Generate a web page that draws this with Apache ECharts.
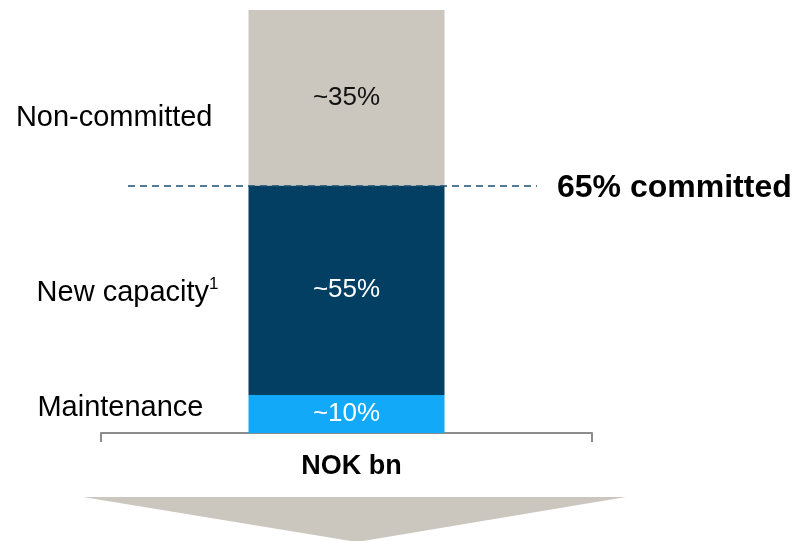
<!DOCTYPE html>
<html>
<head>
<meta charset="utf-8">
<script src="https://cdn.jsdelivr.net/npm/echarts@6/dist/echarts.min.js"></script>
<style>
    html, body { margin: 0; padding: 0; background: #fff; }
    #chart { width: 794px; height: 541px; }
</style>
</head>
<body>
<div id="chart"></div>
<script>
// data (bar heights in % of the total)
const categories = ['NOK bn']
const segmentNames = ['Maintenance', 'New capacity{sup|1}', 'Non-committed']
const segmentValues = [9, 49.5, 41.5]
const segmentLabels = ['~10%', '~55%', '~35%']
const committedValue = 58.5
const committedLabel = '65% committed'

const colors = ['#13A9F9', '#023F63', '#CBC7BF']
const insideColors = ['#fff', '#fff', '#111']
const font = '"Liberation Sans", Arial, sans-serif'

let chart = echarts.init(document.getElementById('chart'), null, {renderer: 'canvas'})

// left side name labels: offsets per segment
const nameLabel = [
    {distance: 45, offset: [0, -6]},
    {distance: 30, offset: [0, 3]},
    {distance: 36, offset: [0, 20]}
]

let series = []
segmentValues.forEach((v, i) => {
    series.push({
        name: segmentNames[i],
        type: 'bar',
        stack: 'total',
        barWidth: 196,
        data: [v],
        itemStyle: {color: colors[i]},
        label: {
            show: true,
            position: 'inside',
            formatter: segmentLabels[i],
            color: insideColors[i],
            fontFamily: font,
            fontSize: 26
        },
        markLine: i === 1 ? {
            silent: true,
            symbol: 'none',
            lineStyle: {color: '#1B4F72', width: 1.6, type: [7, 5]},
            label: {
                show: true,
                position: 'end',
                distance: 20,
                offset: [0, 3],
                formatter: committedLabel,
                color: '#000',
                fontFamily: font,
                fontWeight: 'bold',
                fontSize: 32
            },
            data: [[{x: 128, yAxis: committedValue}, {x: 537, yAxis: committedValue}]]
        } : undefined
    })
})

// transparent copy of the stack that only carries the names on the left
segmentValues.forEach((v, i) => {
    series.push({
        type: 'bar',
        stack: 'names',
        barWidth: 196,
        barGap: '-100%',
        data: [v],
        itemStyle: {color: 'transparent'},
        silent: true,
        label: {
            show: true,
            position: 'left',
            distance: nameLabel[i].distance,
            offset: nameLabel[i].offset,
            formatter: segmentNames[i],
            color: '#000',
            fontFamily: font,
            fontSize: 29,
            lineHeight: 34,
            rich: {
                sup: {
                    fontFamily: font,
                    fontSize: 17,
                    lineHeight: 34,
                    verticalAlign: 'top',
                    padding: [0, 0, 14, 0],
                    color: '#000'
                }
            }
        }
    })
})

let option = {
    animation: false,
    grid: {
        left: 101,
        right: 202,
        top: 10,
        bottom: 108
    },
    xAxis: {
        type: 'category',
        data: categories,
        axisLine: {
            show: true,
            lineStyle: {color: '#8C8C8C', width: 2}
        },
        axisTick: {
            show: true,
            length: 9,
            lineStyle: {color: '#8C8C8C', width: 2}
        },
        axisLabel: {
            margin: 20,
            padding: [0, 0, 0, 10],
            color: '#000',
            fontFamily: font,
            fontWeight: 'bold',
            fontSize: 27
        }
    },
    yAxis: {
        type: 'value',
        min: 0,
        max: 100,
        show: false
    },
    series: series,
    graphic: [{
        // big grey arrow under the axis
        type: 'polygon',
        shape: {points: [[83, 497], [626, 497], [357, 542]]},
        style: {fill: '#CBC7BF'},
        silent: true
    }]
}

chart.setOption(option)
</script>
</body>
</html>
